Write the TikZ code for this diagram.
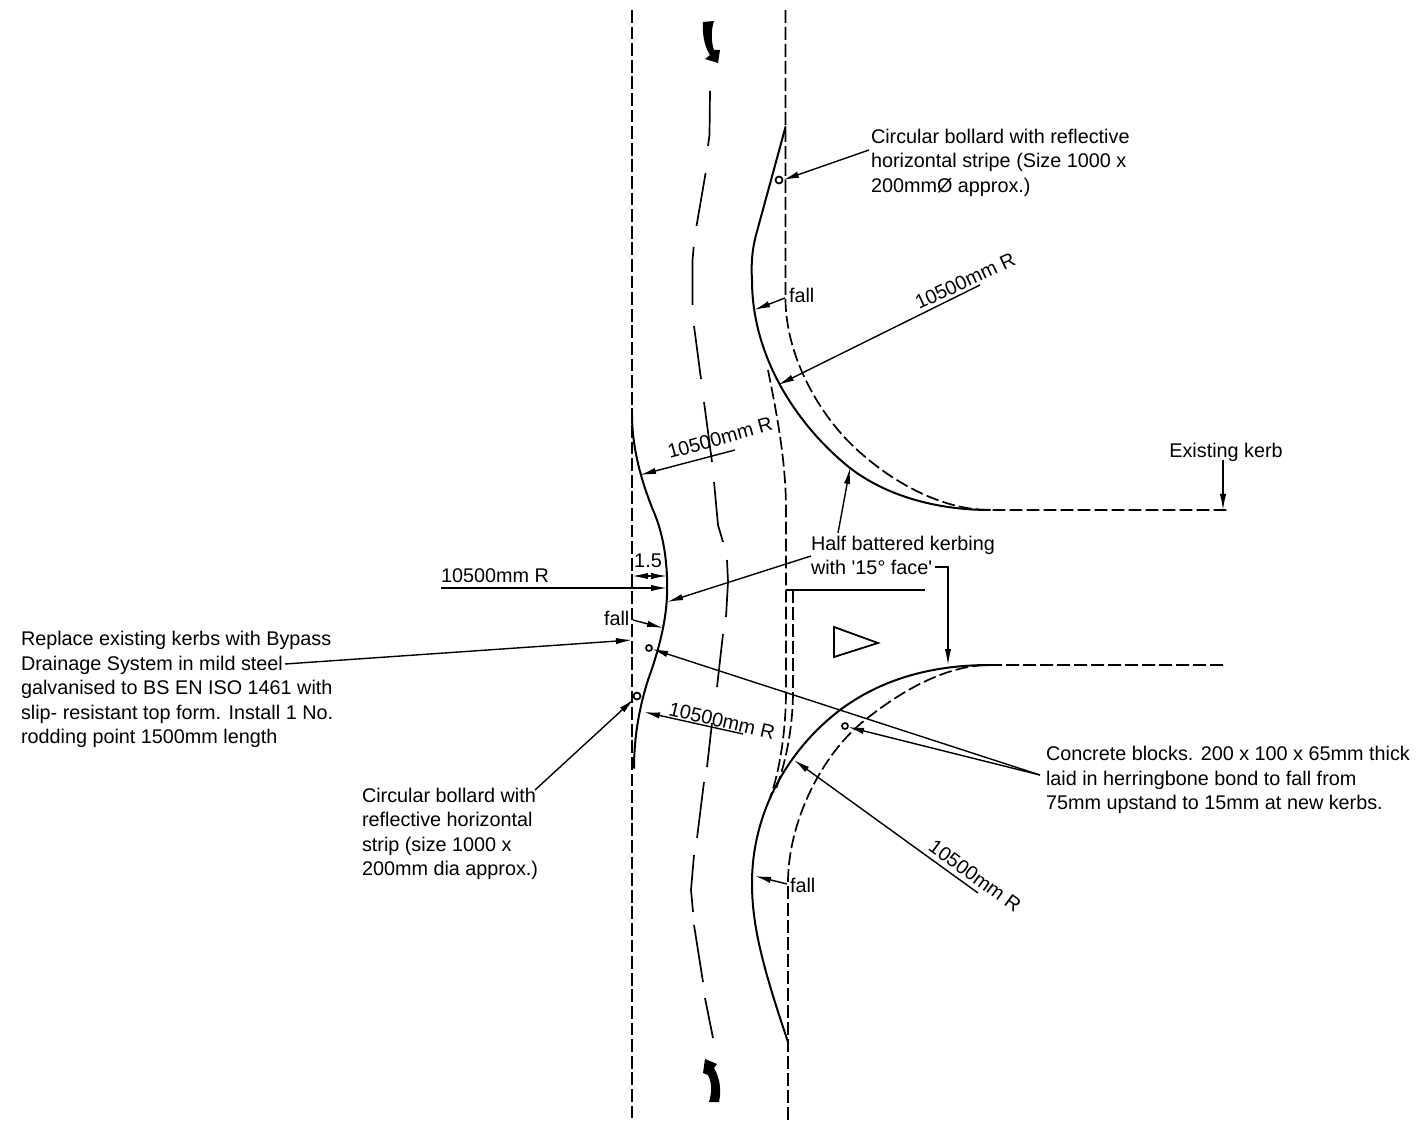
\documentclass[tikz,border=0pt]{standalone}
\usepackage{fontspec}
\newfontfamily\plainsans{Liberation Sans}
\usetikzlibrary{arrows.meta}
\tikzset{
  x=0.5pt,y=-0.5pt,
  kerb/.style={line width=1pt,line cap=round},
  cl/.style={line width=0.85pt},
  dashA/.style={line width=1pt,dash pattern=on 6.4pt off 1.9pt},
  dashB/.style={line width=0.85pt,dash pattern=on 6.4pt off 2.1pt},
  lead/.style={line width=0.7pt},
  tip/.style={lead,-{Latex[length=8pt,width=3.2pt]}},
  txt/.style={inner sep=0pt,outer sep=0pt,font=\plainsans\fontsize{9.9}{12.2}\selectfont,align=left,text=black},
  bol/.style={line width=0.85pt,fill=white}
}
\begin{document}
\begin{tikzpicture}
\useasboundingbox (0,0) rectangle (1416,1127);
% boundaries
\draw[dashA] (632,10) -- (632,1122);
\draw[dashB] (785.5,10) -- (785.5,300) .. controls (786,350) and (812,403) .. (847,440) .. controls (880,474) and (935,510) .. (990,510) -- (1228,510);
\draw[dashB] (768,370) .. controls (776,410) and (786,460) .. (786,510) -- (786,690) .. controls (786,730) and (780,770) .. (770,798);
\draw[dashB] (793,590) -- (793,690) .. controls (793,730) and (785,765) .. (775,792);
\draw[dashB] (1223,665) -- (990,665) .. controls (945,665) and (900,692) .. (865,720) .. controls (822,754) and (789,820) .. (788,880) -- (788,1122);
% kerbs
\draw[kerb] (785.5,127) -- (756,235) .. controls (752,250) and (751,265) .. (752,280) .. controls (752,360) and (800,428) .. (850,468) .. controls (885,495) and (935,510) .. (990,510);
\draw[kerb] (990,665) .. controls (930,665) and (880,680) .. (840,710) .. controls (790,748) and (752,810) .. (752,883) .. controls (752,925) and (762,965) .. (788,1042);
\draw[kerb] (632,415) .. controls (632,445) and (640,478) .. (653,510) .. controls (664,535) and (668,565) .. (667,595) .. controls (666,625) and (657,655) .. (648,680) .. controls (640,705) and (634,735) .. (634,768);
% centre line
\draw[cl] (710,91) -- (709.5,135) -- (708,146);
\draw[cl] (705.6,173) -- (696.5,226);
\draw[cl] (693.7,247) -- (692.5,260) -- (692.5,305);
\draw[cl] (694,326) -- (701,379);
\draw[cl] (704,402) -- (712,462);
\draw[cl] (714,482) -- (718,525) -- (723,542);
\draw[cl] (727,560) -- (728,582) -- (726,617);
\draw[cl] (723,634) -- (717,687);
\draw[cl] (712,723) -- (707,767);
\draw[cl] (704,782) -- (697,838);
\draw[cl] (694,855) -- (691,890) -- (693,912);
\draw[cl] (694,925) -- (703,982);
\draw[cl] (705,998) -- (713,1038);
% direction arrows
\fill (703,22) -- (714,21) .. controls (711,30) and (711,42) .. (714,50) -- (720,50) -- (718,63) -- (705,59) -- (710,55) .. controls (704,46) and (702,32) .. (703,22) -- cycle;
\fill (705,1059) -- (717,1064) -- (714,1068) .. controls (721,1080) and (721,1092) .. (719,1102) -- (709,1102) .. controls (712,1092) and (712,1083) .. (708,1075) -- (703,1073) -- cycle;
% give way triangle and line
\draw[line width=0.9pt] (834,627) -- (878,643) -- (834,657) -- cycle;
\draw[line width=1pt] (786,590) -- (925,590);
% bollards
\draw[bol] (779,180) circle (3.5);
\draw[bol] (637,696) circle (3.5);
\draw[bol] (649,648) circle (3);
\draw[bol] (845,726) circle (3);
% labels
\node[txt,anchor=west] (tbolA) at (871,162.5) {Circular bollard with reflective\\horizontal stripe (Size 1000 x\\200mm\O{} approx.)};
\node[txt,anchor=west] (tfallA) at (789,295) {fall};
\node[txt,anchor=center,rotate=25] (trA) at (965,281) {10500mm R};
\node[txt,anchor=center,rotate=15.5] (trB) at (720,438) {10500mm R};
\node[txt,anchor=center] (tex) at (1226,452) {Existing kerb};
\node[txt,anchor=west] (thalf) at (811,555.5) {Half battered kerbing\\with '15\textdegree{} face'};
\node[txt,anchor=center] (tdim) at (648,561) {1.5};
\node[txt,anchor=west] (trC) at (441,576) {10500mm R};
\node[txt,anchor=west] (tfallB) at (604,618) {fall};
\node[txt,anchor=west] (trep) at (21,689.5) {Replace existing kerbs with Bypass\\Drainage System in mild steel\\galvanised to BS EN ISO 1461 with\\slip- resistant top form. Install 1 No.\\rodding point 1500mm length};
\node[txt,anchor=center,rotate=-13] (trD) at (722,721) {10500mm R};
\node[txt,anchor=west] (tbolB) at (362,834) {Circular bollard with\\reflective horizontal\\strip (size 1000 x\\200mm dia approx.)};
\node[txt,anchor=west] (tcon) at (1046,780) {Concrete blocks. 200 x 100 x 65mm thick\\laid in herringbone bond to fall from\\75mm upstand to 15mm at new kerbs.};
\node[txt,anchor=center,rotate=-36] (trE) at (975,876) {10500mm R};
\node[txt,anchor=west] (tfallC) at (790,885) {fall};
% leader end points
\coordinate (a1) at (869,150); \coordinate (a2) at (783,180);
\coordinate (b1) at (785,298); \coordinate (b2) at (754,310);
\coordinate (c1) at (980,285); \coordinate (c2) at (778,385);
\coordinate (d1) at (735,450); \coordinate (d2) at (640,475);
\coordinate (e1) at (1223,460); \coordinate (e2) at (1223,510);
\coordinate (f1) at (838,533); \coordinate (f2) at (850,468);
\coordinate (g1) at (811,556); \coordinate (g2) at (667,602);
\coordinate (h1) at (935,567); \coordinate (h2) at (948,567); \coordinate (h3) at (948,665);
\coordinate (i1) at (441,588); \coordinate (i2) at (667,588);
\coordinate (j1) at (633,620); \coordinate (j2) at (663,628);
\coordinate (k1) at (285,664); \coordinate (k2) at (632,640);
\coordinate (l1) at (535,790); \coordinate (l2) at (634,699);
\coordinate (m1) at (1040,775); \coordinate (m2) at (652,649); \coordinate (m3) at (848,727);
\coordinate (n1) at (743,734); \coordinate (n2) at (644,712);
\coordinate (o1) at (978,893); \coordinate (o2) at (794,760);
\coordinate (p1) at (787,884); \coordinate (p2) at (755,876);
\coordinate (q1) at (649,576); \coordinate (q2) at (632,576); \coordinate (q3) at (667,576);
% leaders
\draw[tip] (a1) -- (a2);
\draw[tip] (b1) -- (b2);
\draw[tip] (c1) -- (c2);
\draw[tip] (d1) -- (d2);
\draw[tip] (e1) -- (e2);
\draw[tip] (f1) -- (f2);
\draw[tip] (g1) -- (g2);
\draw[tip] (h1) -- (h2) -- (h3);
\draw[tip] (i1) -- (i2);
\draw[tip] (j1) -- (j2);
\draw[tip] (k1) -- (k2);
\draw[tip] (l1) -- (l2);
\draw[tip] (m1) -- (m2);
\draw[tip] (m1) -- (m3);
\draw[tip] (n1) -- (n2);
\draw[tip] (o1) -- (o2);
\draw[tip] (p1) -- (p2);
\draw[tip] (q1) -- (q2);
\draw[tip] (q1) -- (q3);
\end{tikzpicture}
\end{document}
